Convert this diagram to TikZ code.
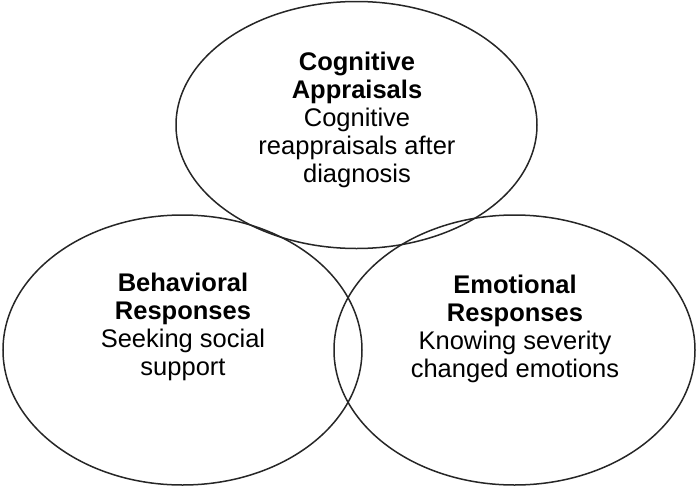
\documentclass[tikz,border=0pt]{standalone}
\usepackage{fontspec}
\setmainfont{Liberation Sans}
\usetikzlibrary{shapes.geometric}
\begin{document}
\begin{tikzpicture}[x=1pt,y=-1pt,
  circ/.style={draw=black!85,line width=1.5pt},
  lbl/.style={align=center,font=\fontsize{25.5}{27.8}\selectfont,inner sep=0pt}]
\useasboundingbox (0,0) rectangle (697,488);
\draw[circ] (356.5,125) ellipse [x radius=180.5, y radius=123.5];
\draw[circ] (182.5,350) ellipse [x radius=179.5, y radius=135];
\draw[circ] (514.5,350) ellipse [x radius=180.5, y radius=135];
\node[lbl] (cog) at (357,120) {\textbf{Cognitive}\\\textbf{Appraisals}\\Cognitive\\reappraisals after\\diagnosis};
\node[lbl] (beh) at (183,327) {\textbf{Behavioral}\\\textbf{Responses}\\Seeking social\\support};
\node[lbl] (emo) at (515,329) {\textbf{Emotional}\\\textbf{Responses}\\Knowing severity\\changed emotions};
\end{tikzpicture}
\end{document}
